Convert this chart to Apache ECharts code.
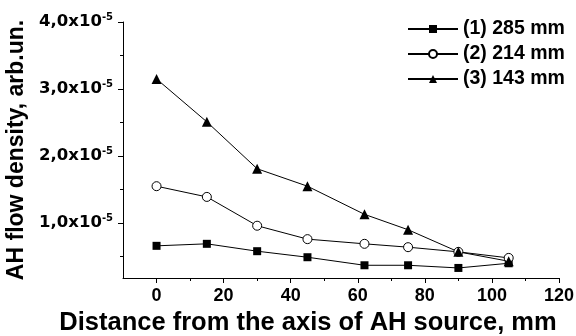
<!DOCTYPE html>
<html>
<head>
<meta charset="utf-8">
<script src="https://cdn.jsdelivr.net/npm/echarts@6/dist/echarts.min.js"></script>
<style>
  html, body { margin: 0; padding: 0; background: #fff; }
  #chart { width: 576px; height: 336px; }
</style>
</head>
<body>
<div id="chart"></div>
<script>
// distance from the axis, mm
var distances = [0, 15, 30, 45, 62, 75, 90, 105];
// flow density, units of 1e-5 arb.un.
var series285 = [0.66, 0.69, 0.58, 0.49, 0.37, 0.37, 0.33, 0.40];
var series214 = [1.55, 1.39, 0.96, 0.76, 0.69, 0.64, 0.57, 0.48];
var series143 = [3.15, 2.51, 1.81, 1.55, 1.13, 0.90, 0.57, 0.43];
var seriesNames = ['(1) 285 mm', '(2) 214 mm', '(3) 143 mm'];
var yTicks = [1, 2, 3, 4];
var yMinorTicks = [0.5, 1.5, 2.5, 3.5];
var xTicks = [0, 20, 40, 60, 80, 100, 120];
var xMinorTicks = [10, 30, 50, 70, 90, 110];

var font = 'Liberation Sans, Arial, sans-serif';
var wideFont = 'DejaVu Sans, sans-serif';

function pairs(ys) {
  var res = [];
  for (var i = 0; i < distances.length; i++) {
    res.push([distances[i], ys[i]]);
  }
  return res;
}

var chart = echarts.init(document.getElementById('chart'), null, { renderer: 'canvas' });

var option = {
  animation: false,
  backgroundColor: '#fff',
  grid: { left: 123, right: 17, top: 22, bottom: 58, containLabel: false, outerBoundsMode: 'none' },
  legend: {
    orient: 'vertical',
    left: 402,
    top: 14,
    itemWidth: 50,
    itemHeight: 10,
    itemGap: 5,
    textStyle: { fontFamily: font, fontWeight: 'bold', fontSize: 19.5, color: '#000' },
    data: seriesNames
  },
  xAxis: [{
    type: 'value',
    min: -10,
    max: 120,
    name: 'Distance from the axis of AH source, mm',
    nameLocation: 'middle',
    nameGap: 30,
    nameTextStyle: { fontFamily: font, fontWeight: 'bold', fontSize: 25.5, color: '#000', padding: [0, 66, 0, 0] },
    splitLine: { show: false },
    axisLine: { show: true, onZero: false, lineStyle: { color: '#000', width: 1 } },
    axisTick: { show: true, inside: false, length: 5, customValues: xTicks, lineStyle: { color: '#000' } },
    axisLabel: { customValues: xTicks, fontFamily: font, fontWeight: 'bold', fontSize: 18, color: '#000', margin: 9 }
  }, {
    type: 'value',
    min: -10,
    max: 120,
    position: 'bottom',
    offset: 0,
    splitLine: { show: false },
    axisLine: { show: false, onZero: false },
    axisTick: { show: true, inside: false, length: 3, customValues: xMinorTicks, lineStyle: { color: '#000' } },
    axisLabel: { show: false }
  }],
  yAxis: [{
    type: 'value',
    min: 0.18,
    max: 4,
    name: 'AH flow density, arb.un.',
    nameLocation: 'middle',
    nameRotate: 90,
    nameGap: 86,
    nameTextStyle: { fontFamily: font, fontWeight: 'bold', fontSize: 23, color: '#000' },
    splitLine: { show: false },
    axisLine: { show: true, onZero: false, lineStyle: { color: '#000', width: 1 } },
    axisTick: { show: true, inside: false, length: 5, customValues: yTicks, lineStyle: { color: '#000' } },
    axisLabel: {
      customValues: yTicks,
      margin: 10,
      fontFamily: wideFont,
      fontWeight: 'bold',
      fontSize: 16.5,
      color: '#000',
      formatter: function (v) {
        return '{a|' + v.toFixed(1).replace('.', ',') + 'x10}{b|-5}';
      },
      rich: {
        a: { fontFamily: wideFont, fontWeight: 'bold', fontSize: 16.5, color: '#000' },
        b: { fontFamily: wideFont, fontWeight: 'bold', fontSize: 10, color: '#000', padding: [0, 0, 10, 0] }
      }
    }
  }, {
    type: 'value',
    min: 0.18,
    max: 4,
    position: 'left',
    offset: 0,
    splitLine: { show: false },
    axisLine: { show: false, onZero: false },
    axisTick: { show: true, inside: false, length: 3, customValues: yMinorTicks, lineStyle: { color: '#000' } },
    axisLabel: { show: false }
  }],
  series: [{
    name: seriesNames[0],
    type: 'line',
    data: pairs(series285),
    symbol: 'rect',
    symbolSize: 8,
    lineStyle: { color: '#000', width: 1 },
    itemStyle: { color: '#000' }
  }, {
    name: seriesNames[1],
    type: 'line',
    data: pairs(series214),
    symbol: 'circle',
    symbolSize: 9,
    lineStyle: { color: '#000', width: 1 },
    itemStyle: { color: '#fff', borderColor: '#000', borderWidth: 1 }
  }, {
    name: seriesNames[2],
    type: 'line',
    data: pairs(series143),
    symbol: 'triangle',
    symbolSize: 10,
    lineStyle: { color: '#000', width: 1 },
    itemStyle: { color: '#000' }
  }]
};

chart.setOption(option);
</script>
</body>
</html>
